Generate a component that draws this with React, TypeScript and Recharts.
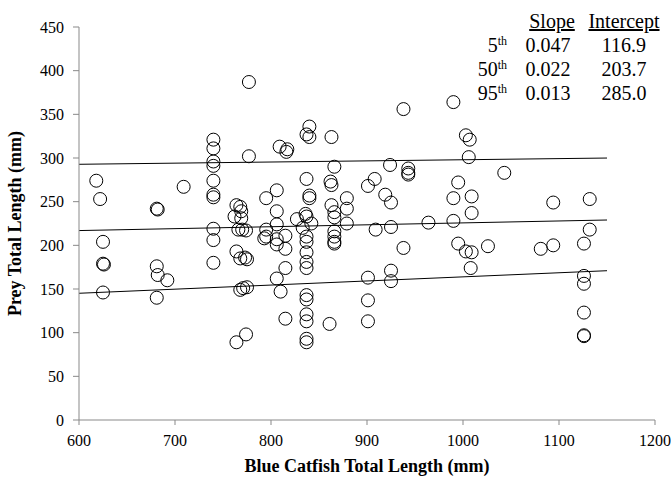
import { ScatterChart, Scatter, XAxis, YAxis, ReferenceLine } from 'recharts'

// blue catfish total length (mm) and the matching prey total length (mm)
const catfishTL = [
  618, 622, 625, 625, 626, 625, 681, 682, 681, 682, 692, 681, 709,
  740, 740, 740, 740, 740, 740, 740, 740, 740, 740,
  764, 768, 769, 762, 769, 766, 770, 774, 764, 768, 773, 775, 768, 771, 775, 764, 774, 777, 777,
  795, 806, 806, 806, 795, 795, 793, 806, 806, 815, 815, 827, 809, 817, 816, 815, 806, 810, 815,
  840, 837, 840, 837, 840, 840, 836, 837, 842, 833, 837, 837, 837, 837, 837, 837, 837, 837, 837, 837, 837,
  863, 866, 862, 863, 863, 866, 866, 866, 866, 866, 866, 879, 879, 879, 861,
  901, 908, 909, 901, 901, 901, 924, 919, 925, 925, 925, 925, 938, 938, 943, 943, 943,
  964, 990, 1003, 1007, 1006, 995, 990, 1009, 1009, 990, 995, 1003, 1009, 1008, 1026, 1043,
  1081, 1094, 1094, 1126, 1126, 1126, 1126, 1126, 1126, 1132, 1132,
]
const preyTL = [
  274, 253, 204, 179, 178, 146, 242, 241, 176, 166, 160, 140, 267,
  321, 311, 296, 291, 274, 258, 255, 219, 206, 180,
  246, 244, 239, 233, 231, 218, 218, 217, 193, 185, 186, 184, 149, 151, 152, 89, 98, 387, 302,
  254, 263, 239, 224, 218, 210, 208, 207, 201, 211, 196, 230, 313, 310, 307, 174, 162, 147, 116,
  336, 327, 324, 276, 257, 254, 236, 233, 225, 220, 210, 204, 192, 181, 174, 143, 138, 121, 113, 93, 89,
  324, 290, 273, 269, 246, 238, 232, 216, 210, 204, 202, 254, 242, 225, 110,
  268, 276, 218, 163, 137, 113, 292, 258, 249, 221, 171, 159, 356, 197, 288, 283, 281,
  226, 364, 326, 321, 301, 272, 254, 256, 237, 228, 202, 193, 192, 174, 199, 283,
  196, 249, 200, 202, 165, 156, 123, 97, 96, 253, 218,
]

// quantile regression fits
const quantiles = ['5', '50', '95']
const slopes = [0.047, 0.022, 0.013]
const intercepts = [116.9, 203.7, 285.0]
const fitFrom = 600
const fitTo = 1150

const xTicks = [600, 700, 800, 900, 1000, 1100, 1200]
const yTicks = [0, 50, 100, 150, 200, 250, 300, 350, 400, 450]

const points = catfishTL.map((x, i) => ({ x, y: preyTL[i] }))

const serif = '"Liberation Serif", "Times New Roman", serif'
const axisGray = '#898989'
const titleFont = { fill: '#000', fontSize: 18, fontWeight: 'bold', fontFamily: serif }

const XTick = (props: any) => (
  <text x={props.x} y={props.y} dy="0.71em" textAnchor="middle" fontSize={16} fontFamily={serif} fill="#000">
    {props.payload.value}
  </text>
)

const YTick = (props: any) => (
  <text x={props.x} y={props.y} dy="0.35em" textAnchor="end" fontSize={16} fontFamily={serif} fill="#000">
    {props.payload.value}
  </text>
)

const OpenCircle = (props: any) => (
  <circle cx={props.cx} cy={props.cy} r={6.5} fill="none" stroke="#000" strokeWidth={1} />
)

export default function App() {
  return (
    <div
      style={{
        position: 'absolute',
        left: 0,
        top: 0,
        width: 671,
        height: 477,
        background: '#fff',
        fontFamily: serif,
      }}
    >
      <ScatterChart width={671} height={477} margin={{ top: 27, right: 16, bottom: 0, left: 0 }}>
        <XAxis
          type="number"
          dataKey="x"
          domain={[600, 1200]}
          ticks={xTicks}
          interval={0}
          height={57}
          tickSize={5}
          tickMargin={10}
          tick={XTick}
          axisLine={{ stroke: axisGray }}
          tickLine={{ stroke: axisGray }}
          label={{
            value: 'Blue Catfish Total Length (mm)',
            position: 'insideBottom',
            offset: 5,
            ...titleFont,
          }}
        />
        <YAxis
          type="number"
          dataKey="y"
          domain={[0, 450]}
          ticks={yTicks}
          interval={0}
          width={79}
          tickSize={6}
          tickMargin={9}
          tick={YTick}
          axisLine={{ stroke: axisGray }}
          tickLine={{ stroke: axisGray }}
          label={{
            value: 'Prey Total Length (mm)',
            angle: -90,
            position: 'insideLeft',
            offset: 15,
            ...titleFont,
            style: { textAnchor: 'middle' },
          }}
        />
        {slopes.map((s, i) => (
          <ReferenceLine
            key={quantiles[i]}
            segment={[
              { x: fitFrom, y: s * fitFrom + intercepts[i] },
              { x: fitTo, y: s * fitTo + intercepts[i] },
            ]}
            stroke="#000"
            strokeWidth={1}
          />
        ))}
        <Scatter data={points} shape={OpenCircle} isAnimationActive={false} />
      </ScatterChart>

      <svg
        width={671}
        height={477}
        style={{ position: 'absolute', left: 0, top: 0, pointerEvents: 'none' }}
        fontFamily={serif}
        fontSize={20}
      >
        <text x={552} y={28} textAnchor="middle" textDecoration="underline">Slope</text>
        <text x={624} y={28} textAnchor="middle" textDecoration="underline">Intercept</text>
        {quantiles.map((q, i) => (
          <g key={q}>
            <text x={507} y={52 + i * 24} textAnchor="end">
              {q}
              <tspan fontSize={12} dy={-7}>th</tspan>
            </text>
            <text x={548} y={52 + i * 24} textAnchor="middle">{slopes[i].toFixed(3)}</text>
            <text x={624} y={52 + i * 24} textAnchor="middle">{intercepts[i].toFixed(1)}</text>
          </g>
        ))}
      </svg>
    </div>
  )
}
